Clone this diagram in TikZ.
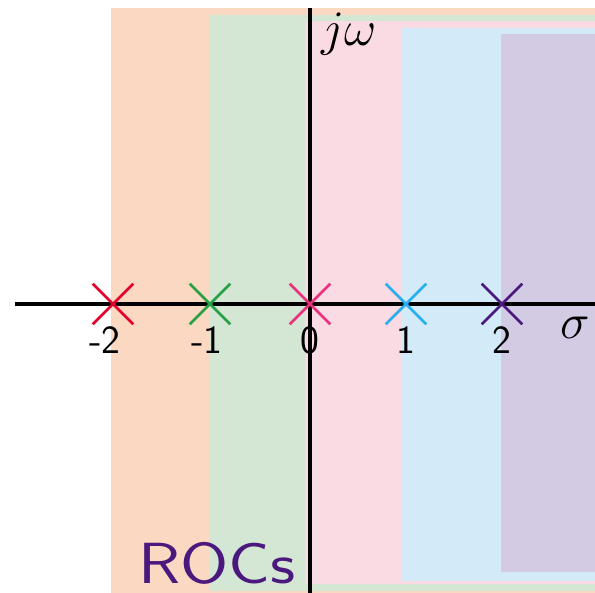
\documentclass[tikz,border=0pt]{standalone}
\usepackage{xcolor}
\usepackage{graphicx}
\usetikzlibrary{positioning,shapes.misc}

\definecolor{rocorange}{RGB}{251,216,194}
\definecolor{rocgreen}{RGB}{212,231,213}
\definecolor{rocpink}{RGB}{250,218,227}
\definecolor{rocblue}{RGB}{211,234,249}
\definecolor{rocpurple}{RGB}{211,202,227}
\definecolor{polered}{RGB}{228,0,43}
\definecolor{polegreen}{RGB}{40,160,70}
\definecolor{polepink}{RGB}{232,50,125}
\definecolor{poleblue}{RGB}{40,175,238}
\definecolor{polepurple}{RGB}{75,25,125}

\begin{document}
\begin{tikzpicture}[x=0.5pt,y=-0.5pt]
\tikzset{
  axis/.style={line width=1.6pt,black},
  pole/.style={cross out,draw,line width=1.3pt,minimum size=19pt,inner sep=0pt},
  ticklab/.style={inner sep=0pt,font=\fontsize{20}{23}\selectfont\sffamily},
  axlab/.style={inner sep=0pt,font=\fontsize{26}{30}\selectfont}
}
\useasboundingbox (0,0) rectangle (595,593);
% regions of convergence
\fill[rocorange] (111,8) rectangle (595,593);
\fill[rocgreen] (210,15) rectangle (595,591);
\fill[rocpink] (305,21) rectangle (595,584);
\fill[rocblue] (402,28) rectangle (595,581);
\fill[rocpurple] (501,34) rectangle (595,572);
% axes
\coordinate (xl) at (15,304);
\coordinate (xr) at (595,304);
\coordinate (yt) at (310,8);
\coordinate (yb) at (310,593);
\draw[axis] (xl) -- (xr);
\draw[axis] (yt) -- (yb);
\node[axlab] (jw) at (349,34) {$j\omega$};
\node[axlab] (sig) at (575,328) {$\sigma$};
% poles
\node[pole,draw=polered] (pm2) at (113,304) {};
\node[pole,draw=polegreen] (pm1) at (210,304) {};
\node[pole,draw=polepink] (p0) at (310,304) {};
\node[pole,draw=poleblue] (p1) at (406,304) {};
\node[pole,draw=polepurple] (p2) at (502,304) {};
\node[ticklab,below=1pt of pm2,xshift=-4pt] (lm2) {-2};
\node[ticklab,below=1pt of pm1,xshift=-1.5pt] (lm1) {-1};
\node[ticklab,below=1pt of p0] (l0) {0};
\node[ticklab,below=1pt of p1] (l1) {1};
\node[ticklab,below=1pt of p2] (l2) {2};
\node[inner sep=0pt,text=polepurple,font=\fontsize{29}{32}\selectfont\sffamily] (rocs) at (217,563) {\scalebox{1.2}[1]{ROCs}};
\end{tikzpicture}
\end{document}
